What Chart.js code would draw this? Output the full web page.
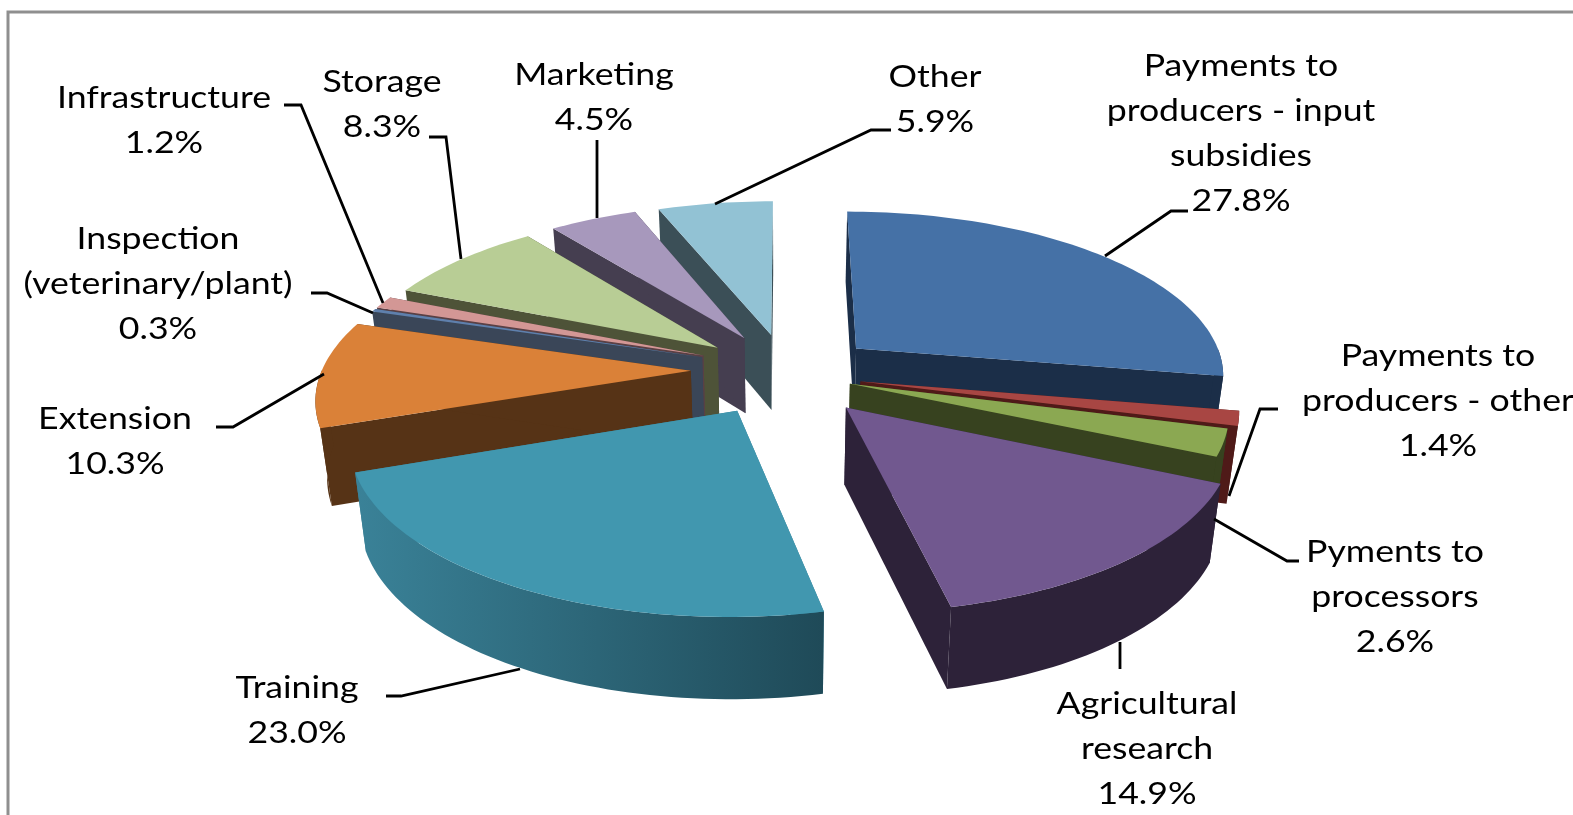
<!DOCTYPE html>
<html>
<head>
<meta charset="utf-8">
<style>
  html, body { margin: 0; padding: 0; background: #fff; overflow: hidden; }
  canvas { display: block; filter: blur(0.5px); }
</style>
<script src="https://cdn.jsdelivr.net/npm/chart.js@4/dist/chart.umd.min.js"></script>
</head>
<body>
<canvas id="chart" width="1573" height="815"></canvas>
<script>
const categories = [
  ['Payments to', 'producers - input', 'subsidies'],
  ['Payments to', 'producers - other'],
  ['Pyments to', 'processors'],
  ['Agricultural', 'research'],
  ['Training'],
  ['Extension'],
  ['Inspection', '(veterinary/plant)'],
  ['Infrastructure'],
  ['Storage'],
  ['Marketing'],
  ['Other'],
];
const shares = [27.8, 1.4, 2.6, 14.9, 23.0, 10.3, 0.3, 1.2, 8.3, 4.5, 5.9];
const topColors = ['#4571a6', '#a84643', '#8ba852', '#71588f', '#4197af', '#da8138', '#5f80ad', '#d39795', '#b8cd95', '#a798bc', '#92c2d4'];
const sideColors = ['#1b2e48', '#4f1a18', '#37421f', '#2d2239', '#3a8298', '#563316', '#3a4658', '#5a4045', '#4e5338', '#453e50', '#3b4f57'];
// explosion of each slice: percent of the radius, and direction in degrees clockwise from the top
const explode = [23, 22, 20, 28.7, 28.6, 25.6, 23.6, 23.6, 22.4, 21.7, 21];
const explodeAngle = [58.7, 112.9, 119.7, 146.2, 205.9, 265.5, 285.7, 288.3, 303.7, 328.6, 349.4];
// slices are painted back to front
const drawOrder = [10, 9, 8, 7, 6, 5, 0, 1, 2, 3, 4];

// label anchor (centre x, first line y) and leader polyline, same order as categories
const labelAnchors = [[1241, 66], [1438, 356], [1395, 552], [1147, 704], [297, 688], [115, 419], [158, 239], [164, 98], [382, 82], [594, 75], [935, 77]];
const leaders = [
  [[1105, 256], [1171, 211], [1188, 211]],
  [[1229, 496], [1260, 409], [1278, 409]],
  [[1214, 519], [1287, 561], [1299, 561]],
  [[1120, 642], [1120, 669]],
  [[520, 669], [401, 696], [386, 696]],
  [[324, 374], [233, 427], [216, 427]],
  [[373, 313], [327, 293], [311, 293]],
  [[383, 303], [301, 105], [284, 105]],
  [[461, 259], [446, 137], [429, 137]],
  [[597, 218], [597, 140]],
  [[715, 204], [871, 130], [891, 130]],
];

// projection of the pie plane on screen
const SCALE_X = 368, SCALE_Y = 162, PERSPECTIVE = 0.146;
const SHIFT_X = -1.5, SHIFT_Y = -40;
const FONT = '31px Lato, "Open Sans", sans-serif';
const TEXT_STRETCH = 1.15;
const LINE_HEIGHT = 45;

function project(el, u, d, down) {
  const w = 1 + PERSPECTIVE * d;
  const h = down ? 76 - 5 * d : 0;
  const narrow = down ? 0.975 : 1;
  return {
    x: el.x + SHIFT_X + SCALE_X * u / w * narrow,
    y: el.y + SHIFT_Y - SCALE_Y * d / w + h,
  };
}

function trace(ctx, pts) {
  ctx.beginPath();
  pts.forEach((p, i) => (i ? ctx.lineTo(p.x, p.y) : ctx.moveTo(p.x, p.y)));
  ctx.closePath();
}

const pie3d = {
  id: 'pie3d',
  beforeDatasetDraw(chart, args) {
    const ctx = chart.ctx;
    const meta = chart.getDatasetMeta(args.index);
    drawOrder.forEach((i) => {
      const el = meta.data[i];
      const off = el.options.offset / 100;
      const dir = explodeAngle[i] * Math.PI / 180;
      const ou = Math.sin(dir) * off;
      const od = Math.cos(dir) * off;
      const arcPoints = [];
      const steps = Math.max(2, Math.ceil((el.endAngle - el.startAngle) * 40));
      for (let s = 0; s <= steps; s++) {
        const a = el.startAngle + (el.endAngle - el.startAngle) * s / steps;
        arcPoints.push({ u: Math.cos(a) + ou, d: -Math.sin(a) + od, front: Math.sin(a) > -0.02 });
      }
      const at = (p, down) => project(el, p.u, p.d, down);
      const apex = { u: ou, d: od };
      const first = arcPoints[0];
      const last = arcPoints[arcPoints.length - 1];

      ctx.fillStyle = sideColors[i];
      [first, last].forEach((edge) => {
        trace(ctx, [at(apex), at(edge), at(edge, true), at(apex, true)]);
        ctx.fill();
      });

      const wall = arcPoints.filter((p) => p.front);
      if (wall.length > 1) {
        const topEdge = wall.map((p) => at(p));
        const bottomEdge = wall.map((p) => at(p, true)).reverse();
        trace(ctx, topEdge.concat(bottomEdge));
        if (categories[i][0] === 'Training') {
          const grad = ctx.createLinearGradient(topEdge[topEdge.length - 1].x, 0, topEdge[0].x, 0);
          grad.addColorStop(0, '#3a8298');
          grad.addColorStop(1, '#1f4a58');
          ctx.fillStyle = grad;
        } else {
          ctx.fillStyle = sideColors[i];
        }
        ctx.fill();
      }

      ctx.fillStyle = el.options.backgroundColor;
      trace(ctx, [at(apex)].concat(arcPoints.map((p) => at(p))));
      ctx.fill();
    });
    return false;
  },
  afterDraw(chart) {
    const ctx = chart.ctx;
    ctx.save();
    // frame
    ctx.strokeStyle = '#8f8f8f';
    ctx.lineWidth = 3;
    ctx.strokeRect(8, 12, 1600, 900);
    // leader lines
    ctx.strokeStyle = '#000';
    ctx.lineWidth = 2.8;
    leaders.forEach((line) => {
      ctx.beginPath();
      line.forEach(([x, y], i) => (i ? ctx.lineTo(x, y) : ctx.moveTo(x, y)));
      ctx.stroke();
    });
    // labels
    ctx.fillStyle = '#000';
    ctx.font = FONT;
    ctx.textAlign = 'center';
    ctx.textBaseline = 'middle';
    categories.forEach((lines, i) => {
      const [x, y] = labelAnchors[i];
      lines.concat(shares[i].toFixed(1) + '%').forEach((text, n) => {
        ctx.save();
        ctx.translate(x, y + n * LINE_HEIGHT);
        ctx.scale(TEXT_STRETCH, 1);
        ctx.fillText(text, 0, 0);
        ctx.restore();
      });
    });
    ctx.restore();
  },
};

new Chart(document.getElementById('chart'), {
  type: 'pie',
  data: {
    labels: categories.map((lines) => lines.join(' ')),
    datasets: [{
      data: shares,
      backgroundColor: topColors,
      offset: explode,
      borderWidth: 0,
    }],
  },
  options: {
    responsive: false,
    animation: false,
    plugins: { legend: { display: false }, tooltip: { enabled: false } },
  },
  plugins: [pie3d],
});
</script>
</body>
</html>
